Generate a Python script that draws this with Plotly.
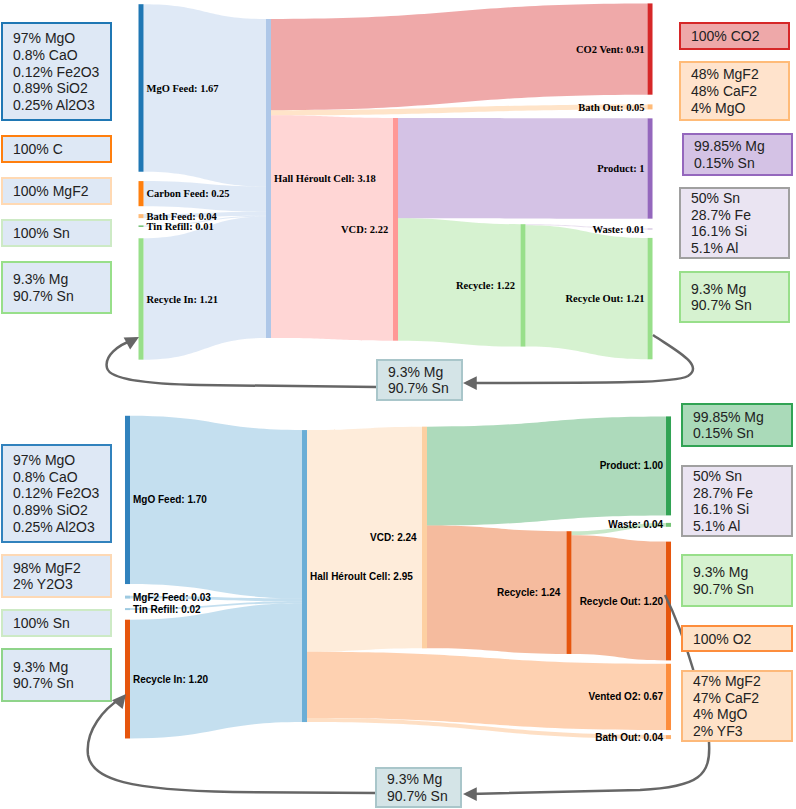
import plotly.graph_objects as go

W, H = 796, 809

# ---------------- Top sankey data ----------------
top_names = ["MgO Feed", "Carbon Feed", "Bath Feed", "Tin Refill", "Recycle In",
             "Hall Héroult Cell", "CO2 Vent", "Bath Out", "VCD", "Product",
             "Recycle", "Waste", "Recycle Out"]
top_node_values = [1.67, 0.25, 0.04, 0.01, 1.21, 3.18, 0.91, 0.05, 2.22, 1, 1.22, 0.01, 1.21]
top_node_colors = ["#1f77b4", "#ff7f0e", "#ffbb78", "#2ca02c", "#98df8a", "#aec7e8",
                   "#d62728", "#ffbb78", "#ff9896", "#9467bd", "#98df8a", "#c5b0d5", "#98df8a"]
top_sources = [0, 1, 2, 3, 4, 5, 5, 5, 8, 8, 10, 10]
top_targets = [5, 5, 5, 5, 5, 6, 7, 8, 9, 10, 11, 12]
top_values = [1.67, 0.25, 0.04, 0.01, 1.21, 0.91, 0.05, 2.22, 1.0, 1.22, 0.01, 1.21]
top_link_colors = ["rgba(174,199,232,0.4)"] * 5 + [
    "rgba(214,39,40,0.4)", "rgba(255,187,120,0.4)", "rgba(255,152,150,0.4)",
    "rgba(148,103,189,0.4)", "rgba(152,223,138,0.4)",
    "rgba(197,176,213,0.4)", "rgba(152,223,138,0.4)"]
top_x = [0.0707, 0.0707, 0.0707, 0.0707, 0.0707, 0.2905, 0.9483, 0.9483, 0.5095,
         0.9483, 0.7293, 0.9483, 0.9483]
top_y = [0.238, 0.534, 0.597, 0.625, 0.829, 0.4916, 0.129, 0.291, 0.634,
         0.4636, 0.791, 0.633, 0.828]
top_left_labels = ["VCD", "Recycle"]   # labels drawn on the left side of their node

# ---------------- Bottom sankey data ----------------
bot_names = ["MgO Feed", "MgF2 Feed", "Tin Refill", "Recycle In", "Hall Héroult Cell",
             "VCD", "Vented O2", "Bath Out", "Product", "Recycle", "Waste", "Recycle Out"]
bot_node_values = [1.70, 0.03, 0.02, 1.20, 2.95, 2.24, 0.67, 0.04, 1.00, 1.24, 0.04, 1.20]
bot_node_colors = ["#3182bd", "#9ecae1", "#9ecae1", "#e6550d", "#6baed6", "#fdd0a2",
                   "#fd8d3c", "#fdae6b", "#31a354", "#e6550d", "#74c476", "#e6550d"]
bot_sources = [0, 1, 2, 3, 4, 4, 4, 5, 5, 9, 9]
bot_targets = [4, 4, 4, 4, 5, 6, 7, 8, 9, 10, 11]
bot_values = [1.70, 0.03, 0.02, 1.20, 2.24, 0.67, 0.04, 1.00, 1.24, 0.04, 1.20]
bot_link_colors = ["rgba(107,174,214,0.4)"] * 4 + [
    "rgba(253,208,162,0.4)", "rgba(253,141,60,0.4)", "rgba(253,174,107,0.4)",
    "rgba(49,163,84,0.4)", "rgba(230,85,13,0.4)",
    "rgba(116,196,118,0.4)", "rgba(230,85,13,0.4)"]
bot_x = [0.0474, 0.0474, 0.0474, 0.0474, 0.3526, 0.5595, 0.9802, 0.9802, 0.9802,
         0.8086, 0.9802, 0.9802]
bot_y = [0.259, 0.559, 0.596, 0.812, 0.494, 0.375, 0.867, 0.991, 0.154,
         0.545, 0.336, 0.571]
bot_left_labels = ["VCD", "Recycle"]

# ---------------- Composition boxes ----------------
boxes = [
    ((2, 23, 111, 120), "#dee8f5", "#1f77b4", ["97% MgO", "0.8% CaO", "0.12% Fe2O3", "0.89% SiO2", "0.25% Al2O3"]),
    ((2, 136, 111, 162), "#dee8f5", "#ff7f0e", ["100% C"]),
    ((2, 178, 111, 204), "#dee8f5", "#ffd9b3", ["100% MgF2"]),
    ((2, 220, 111, 246), "#dee8f5", "#cdeac5", ["100% Sn"]),
    ((2, 262, 111, 313), "#dee8f5", "#98df8a", ["9.3% Mg", "90.7% Sn"]),
    ((680, 23, 789, 49), "#eea8a9", "#d62728", ["100% CO2"]),
    ((680, 62, 789, 120), "#ffe3cc", "#ffbb78", ["48% MgF2", "48% CaF2", "4% MgO"]),
    ((683, 134, 792, 175), "#d4c2e5", "#9467bd", ["99.85% Mg", "0.15% Sn"]),
    ((680, 188, 789, 258), "#eae4f2", "#a0a0a0", ["50% Sn", "28.7% Fe", "16.1% Si", "5.1% Al"]),
    ((680, 272, 789, 322), "#d6f2d0", "#98df8a", ["9.3% Mg", "90.7% Sn"]),
    ((377, 360, 462, 400), "#d4e4e7", "#a9c6ca", ["9.3% Mg", "90.7% Sn"]),
    ((2, 445, 111, 542), "#dee8f5", "#3182bd", ["97% MgO", "0.8% CaO", "0.12% Fe2O3", "0.89% SiO2", "0.25% Al2O3"]),
    ((2, 555, 111, 597), "#dee8f5", "#fdd9b5", ["98% MgF2", "2% Y2O3"]),
    ((2, 610, 111, 636), "#dee8f5", "#cdeac5", ["100% Sn"]),
    ((2, 649, 111, 701), "#dee8f5", "#8fd48a", ["9.3% Mg", "90.7% Sn"]),
    ((682, 404, 792, 446), "#aadab9", "#31a354", ["99.85% Mg", "0.15% Sn"]),
    ((682, 466, 792, 536), "#eae4f2", "#a0a0a0", ["50% Sn", "28.7% Fe", "16.1% Si", "5.1% Al"]),
    ((682, 555, 792, 606), "#d6f2d0", "#98df8a", ["9.3% Mg", "90.7% Sn"]),
    ((682, 626, 792, 651), "#fee2c8", "#fd8d3c", ["100% O2"]),
    ((682, 671, 792, 741), "#fee2c8", "#fdb97a", ["47% MgF2", "47% CaF2", "4% MgO", "2% YF3"]),
    ((376, 768, 461, 807), "#d4e4e7", "#a9c6ca", ["9.3% Mg", "90.7% Sn"]),
]

# sankey placement (pixels)
DOM_X = (100, 680)
TOP_DOM_Y = (3, 360)
BOT_DOM_Y = (416, 740)
THICK = 5


def px(x):
    return x / W


def py(y):
    return 1 - y / H


def path(cmds):
    out = []
    for c in cmds:
        if isinstance(c, str):
            out.append(c)
        else:
            out.append(f"{px(c[0]):.5f},{py(c[1]):.5f}")
    return " ".join(out)


annotations = []


def make_labels(names, vals, fmt, left_names, xs, ys, dom_y, font):
    labels = []
    for i, (n, v) in enumerate(zip(names, vals)):
        text = f"{n}: {fmt(v)}"
        if n in left_names:
            labels.append("")
            cx = DOM_X[0] + xs[i] * (DOM_X[1] - DOM_X[0])
            cy = dom_y[0] + ys[i] * (dom_y[1] - dom_y[0])
            annotations.append(dict(x=px(cx - THICK / 2 - 3), y=py(cy), xref="paper", yref="paper",
                                    text=text, showarrow=False, xanchor="right", yanchor="middle",
                                    font=font))
        else:
            labels.append(text)
    return labels


top_font = dict(family="Liberation Serif", size=10.5, color="black", weight="bold")
bot_font = dict(family="Liberation Sans", size=10, color="black", weight="bold")

top_labels = make_labels(top_names, top_node_values, lambda v: f"{v:g}", top_left_labels,
                         top_x, top_y, TOP_DOM_Y, top_font)
bot_labels = make_labels(bot_names, bot_node_values, lambda v: f"{v:.2f}", bot_left_labels,
                         bot_x, bot_y, BOT_DOM_Y, bot_font)

fig = go.Figure()

fig.add_trace(go.Sankey(
    domain=dict(x=[px(DOM_X[0]), px(DOM_X[1])], y=[py(TOP_DOM_Y[1]), py(TOP_DOM_Y[0])]),
    arrangement="fixed",
    node=dict(label=top_labels, color=top_node_colors, x=top_x, y=top_y,
              pad=9.5, thickness=THICK, line=dict(width=0)),
    link=dict(source=top_sources, target=top_targets, value=top_values, color=top_link_colors),
    textfont=dict(**top_font, shadow="none"),
))

fig.add_trace(go.Sankey(
    domain=dict(x=[px(DOM_X[0]), px(DOM_X[1])], y=[py(BOT_DOM_Y[1]), py(BOT_DOM_Y[0])]),
    arrangement="fixed",
    node=dict(label=bot_labels, color=bot_node_colors, x=bot_x, y=bot_y,
              pad=8, thickness=THICK, line=dict(width=0)),
    link=dict(source=bot_sources, target=bot_targets, value=bot_values, color=bot_link_colors),
    textfont=dict(**bot_font, shadow="none"),
))

shapes = []
arrow_line = dict(color="#666666", width=2.5)
arrow_paths = [
    ["M", (653, 335), "C", (675, 350), (705, 365), (688, 376), "C", (675, 383), (620, 383), (470, 383)],
    ["M", (377, 387), "L", (200, 385), "C", (150, 384), (110, 380), (107, 368),
     "C", (104, 356), (118, 345), (133, 340)],
    ["M", (665, 595), "Q", (680, 625), (693, 669), "L", (709, 742),
     "C", (711, 775), (700, 787), (640, 790), "L", (470, 794)],
    ["M", (376, 793), "L", (233, 792), "C", (130, 790), (92, 780), (88, 755),
     "C", (85, 730), (105, 708), (120, 699)],
]
for p in arrow_paths:
    shapes.append(dict(type="path", xref="paper", yref="paper", path=path(p),
                       line=arrow_line, layer="above"))

arrowheads = [(463, 383, 14, 0), (139, 337, -13, 7), (463, 794, 14, 0), (126, 694, -9, 11)]
for tx, ty, ax, ay in arrowheads:
    annotations.append(dict(x=px(tx), y=py(ty), xref="paper", yref="paper", text="",
                            showarrow=True, arrowhead=2, arrowsize=1.1, arrowwidth=2.5,
                            arrowcolor="#666666", ax=ax, ay=ay))

LS = 16.75
for (x0, y0, x1, y1), fill, border, lines in boxes:
    shapes.append(dict(type="rect", xref="paper", yref="paper",
                       x0=px(x0), x1=px(x1), y0=py(y1), y1=py(y0),
                       fillcolor=fill, line=dict(color=border, width=2), layer="above"))
    cy = (y0 + y1) / 2
    n = len(lines)
    for i, t in enumerate(lines):
        yy = cy + (i - (n - 1) / 2) * LS
        annotations.append(dict(x=px(x0 + 9), y=py(yy), xref="paper", yref="paper",
                                text=t, showarrow=False, xanchor="left", yanchor="middle",
                                font=dict(family="Liberation Sans", size=14, color="#222222")))

fig.update_layout(
    width=W, height=H,
    margin=dict(l=0, r=0, t=0, b=0),
    paper_bgcolor="white", plot_bgcolor="white",
    shapes=shapes, annotations=annotations,
    showlegend=False,
)

fig.write_html("out.html", config={"displayModeBar": False},
               post_script="document.body.style.margin='0';document.body.style.overflow='hidden';")
